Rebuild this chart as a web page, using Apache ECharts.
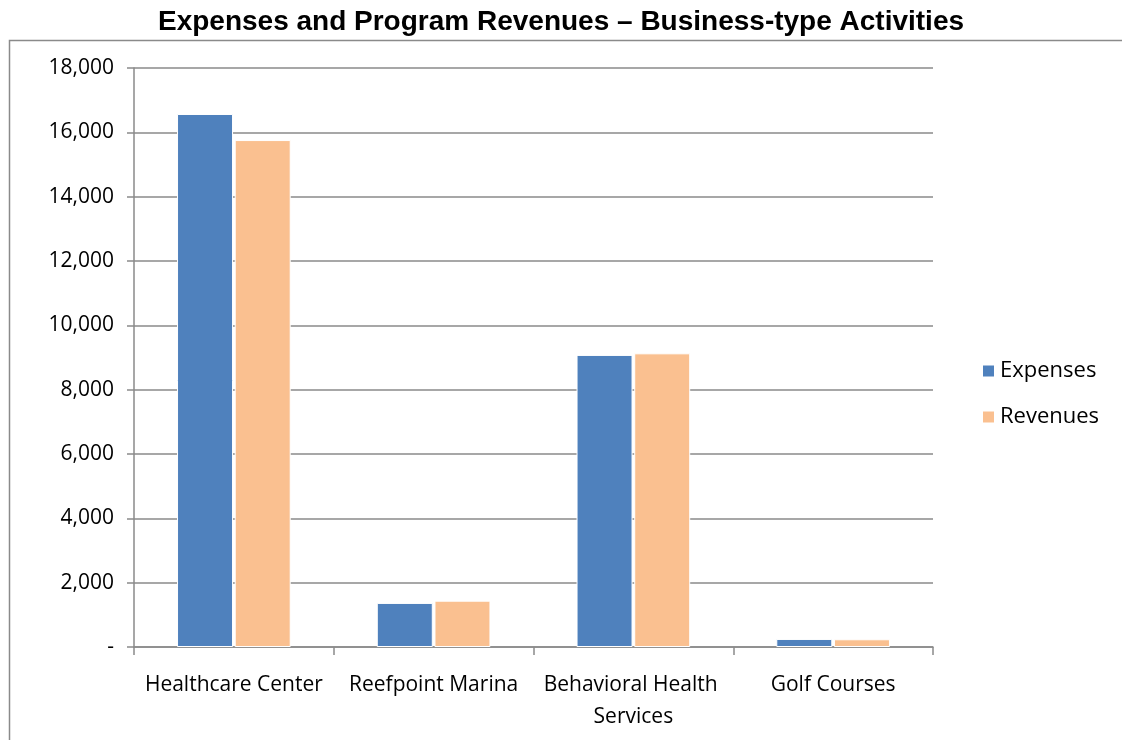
<!DOCTYPE html>
<html>
<head>
<meta charset="utf-8">
<script src="https://cdn.jsdelivr.net/npm/echarts@6/dist/echarts.min.js"></script>
<style>
  html, body { margin: 0; padding: 0; background: #fff; }
  #chart { width: 1122px; height: 740px; }
</style>
</head>
<body>
<div id="chart"></div>
<script>
// Business-type activities and their figures (thousands)
const categories = ['Healthcare Center', 'Reefpoint Marina', 'Behavioral Health Services', 'Golf Courses'];
const expenses = [16570, 1370, 9080, 250];
const revenues = [15760, 1440, 9130, 240];
const yTicks = { min: 0, max: 18000, interval: 2000 };

const chart = echarts.init(document.getElementById('chart'));
const labelFont = '"Open Sans", Lato, sans-serif';

chart.setOption({
  animation: false,
  title: {
    text: 'Expenses and Program Revenues \u2013 Business-type Activities',
    left: 'center',
    top: 3,
    textStyle: { fontFamily: '"Liberation Sans", Arial, sans-serif', fontWeight: 'bold', fontSize: 28, color: '#000' }
  },
  graphic: [{
    type: 'rect',
    shape: { x: 9.5, y: 40.5, width: 1120, height: 720 },
    style: { fill: 'none', stroke: '#8a8a8a', lineWidth: 1.5 },
    silent: true
  }],
  legend: {
    orient: 'vertical',
    left: 976,
    top: 355,
    itemWidth: 13,
    itemHeight: 13,
    itemGap: 24,
    icon: 'rect',
    textStyle: { fontFamily: labelFont, fontSize: 22, color: '#000' },
    data: ['Expenses', 'Revenues']
  },
  grid: { left: 134, top: 68, right: 189, bottom: 93 },
  xAxis: {
    type: 'category',
    data: categories,
    axisLine: { lineStyle: { color: '#8a8a8a', width: 1.5 } },
    axisTick: { show: true, length: 8, interval: 0, lineStyle: { color: '#8a8a8a', width: 1.5 } },
    axisLabel: {
      interval: 0, margin: 22, color: '#000', fontFamily: labelFont, fontSize: 21,
      width: 198, overflow: 'break', lineHeight: 32
    }
  },
  yAxis: {
    type: 'value',
    min: yTicks.min, max: yTicks.max, interval: yTicks.interval,
    axisLine: { show: true, lineStyle: { color: '#8a8a8a', width: 1.5 } },
    axisTick: { show: true, length: 7, lineStyle: { color: '#8a8a8a', width: 1.5 } },
    splitLine: { lineStyle: { color: '#8a8a8a', width: 1.5 } },
    axisLabel: {
      margin: 20, color: '#000', fontFamily: labelFont, fontSize: 21,
      formatter: v => v === 0 ? '-' : v.toLocaleString('en-US')
    }
  },
  series: [
    {
      name: 'Expenses', type: 'bar', data: expenses,
      barWidth: 56, barGap: '3%',
      itemStyle: { color: '#4f81bd', borderColor: '#ffffff', borderWidth: 1 }
    },
    {
      name: 'Revenues', type: 'bar', data: revenues,
      barWidth: 56,
      itemStyle: { color: '#fac090', borderColor: '#ffffff', borderWidth: 1 }
    }
  ]
});
</script>
</body>
</html>
